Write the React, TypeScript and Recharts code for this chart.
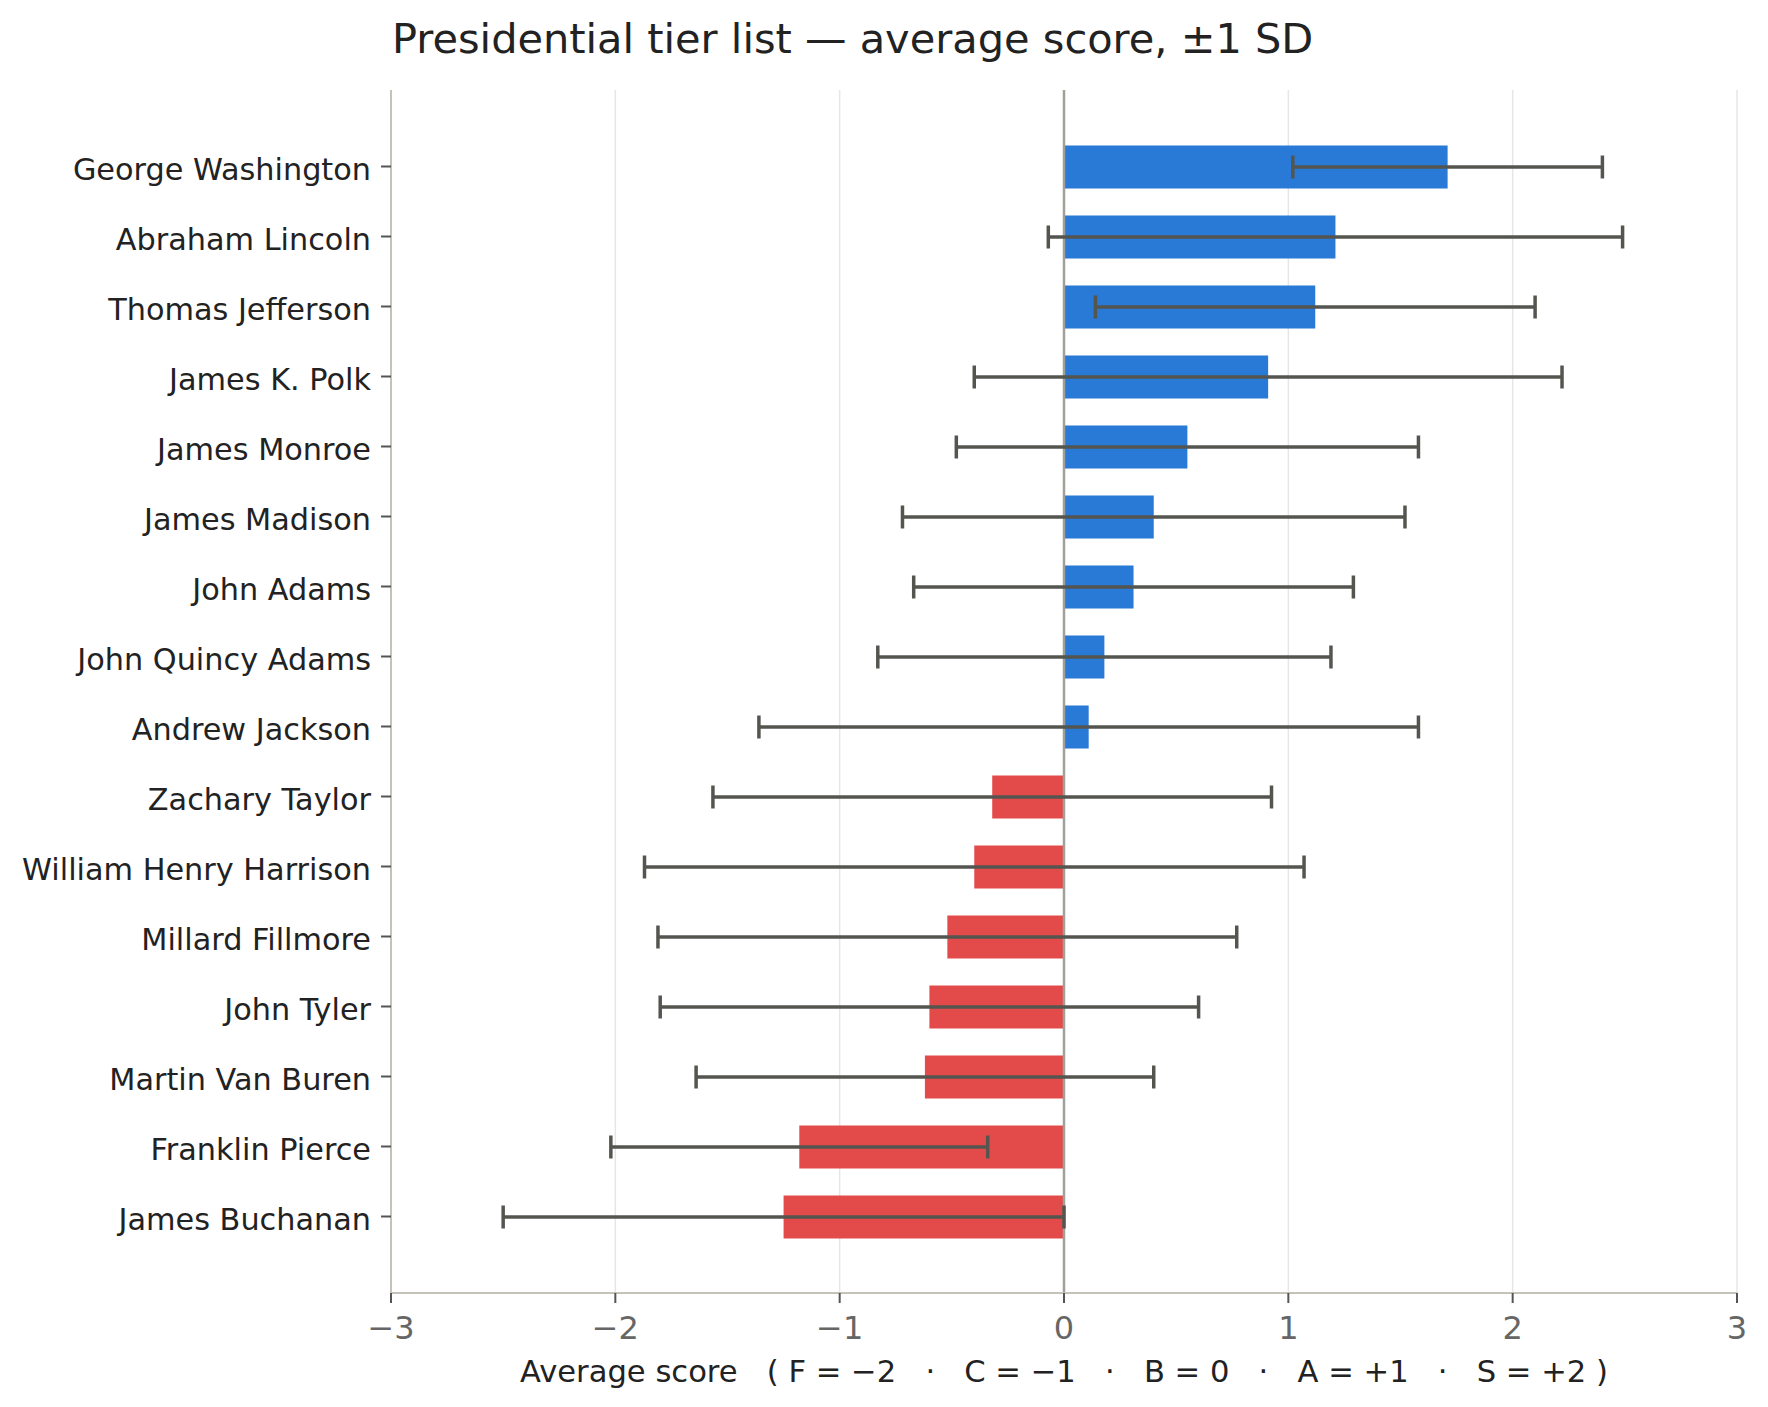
import { BarChart, Bar, XAxis, YAxis, CartesianGrid, ReferenceLine, ErrorBar, Cell } from "recharts";

const presidents = [
  "George Washington",
  "Abraham Lincoln",
  "Thomas Jefferson",
  "James K. Polk",
  "James Monroe",
  "James Madison",
  "John Adams",
  "John Quincy Adams",
  "Andrew Jackson",
  "Zachary Taylor",
  "William Henry Harrison",
  "Millard Fillmore",
  "John Tyler",
  "Martin Van Buren",
  "Franklin Pierce",
  "James Buchanan",
];
const avgScores = [1.71, 1.21, 1.12, 0.91, 0.55, 0.4, 0.31, 0.18, 0.11, -0.32, -0.4, -0.52, -0.6, -0.62, -1.18, -1.25];
const stdDevs = [0.69, 1.28, 0.98, 1.31, 1.03, 1.12, 0.98, 1.01, 1.47, 1.245, 1.47, 1.29, 1.2, 1.02, 0.84, 1.25];
const xTicks = [-3, -2, -1, 0, 1, 2, 3];

const data = presidents.map((name, i) => ({ name, mean: avgScores[i], sd: stdDevs[i] }));

const FONT = "DejaVu Sans";
const BLUE = "#2979d6";
const RED = "#e34b4b";

const fmtTick = (v: number) => (v < 0 ? "\u2212" + Math.abs(v) : String(v));

// matplotlib centres the whole label box, so nudge labels down a little
const NameTick = (props: any) => {
  const { x, y, payload } = props;
  return (
    <text x={x} y={y} dy={13} textAnchor="end" fontSize={30.3} fill="#222" fontFamily={FONT}>
      {payload.value}
    </text>
  );
};

export default function App() {
  return (
    <div style={{ position: "absolute", left: 0, top: 0, width: 1768, height: 1407, background: "#fff" }}>
      <BarChart
        width={1768}
        height={1407}
        data={data}
        layout="vertical"
        margin={{ top: 90, right: 31, left: 0, bottom: 54 }}
      >
        <CartesianGrid horizontal={false} stroke="#e6e6e6" strokeWidth={1.5} />
        <XAxis
          type="number"
          domain={[-3, 3]}
          ticks={xTicks}
          tickFormatter={fmtTick}
          height={60}
          axisLine={{ stroke: "#c5c2ba", strokeWidth: 2 }}
          tickLine={{ stroke: "#555", strokeWidth: 2 }}
          tickSize={10}
          tickMargin={13}
          tick={{ fontSize: 32, fill: "#666", fontFamily: FONT }}
        />
        <YAxis
          type="category"
          dataKey="name"
          width={391}
          interval={0}
          padding={{ top: 41.5, bottom: 41.5 }}
          axisLine={{ stroke: "#c5c2ba", strokeWidth: 2 }}
          tickLine={{ stroke: "#555", strokeWidth: 2 }}
          tickSize={10}
          tickMargin={10}
          tick={<NameTick />}
        />
        <ReferenceLine x={0} stroke="#a09f98" strokeWidth={2.5} />
        <Bar dataKey="mean" barSize={43} isAnimationActive={false}>
          {data.map((d) => (
            <Cell key={d.name} fill={d.mean >= 0 ? BLUE : RED} />
          ))}
          <ErrorBar dataKey="sd" direction="x" width={11.5} strokeWidth={3.5} stroke="#555550" isAnimationActive={false} />
        </Bar>
      </BarChart>
      <svg width={1768} height={1407} style={{ position: "absolute", left: 0, top: 0, pointerEvents: "none" }}>
        <text x={392} y={53} fontSize={41.5} fill="#222" fontFamily={FONT}>
          Presidential tier list — average score, ±1 SD
        </text>
        <text
          x={1064}
          y={1382}
          fontSize={30.6}
          fill="#222"
          fontFamily={FONT}
          textAnchor="middle"
          style={{ whiteSpace: "pre" }}
        >
          {"Average score   ( F = \u22122   \u00b7   C = \u22121   \u00b7   B = 0   \u00b7   A = +1   \u00b7   S = +2 )"}
        </text>
      </svg>
    </div>
  );
}
